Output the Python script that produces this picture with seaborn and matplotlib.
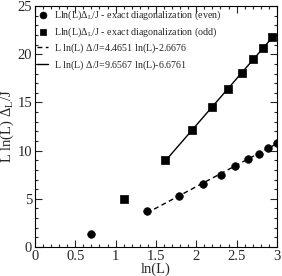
import numpy as np
import pandas as pd
import matplotlib
matplotlib.use("Agg")
import matplotlib.pyplot as plt
from matplotlib.ticker import MultipleLocator
import seaborn as sns

# data
L_even = [2, 4, 6, 8, 10, 12, 14, 16, 18, 20]
y_even = [1.4, 3.7, 5.3, 6.5, 7.5, 8.4, 9.1, 9.7, 10.3, 10.8]
L_odd = [3, 5, 7, 9, 11, 13, 15, 17, 19]
y_odd = [5.0, 9.0, 12.1, 14.5, 16.4, 18.1, 19.5, 20.7, 21.8]
fit_even = (4.4651, -2.6676)
fit_odd = (9.6567, -6.6761)
fit_even_range = (np.log(4), 3.0)
fit_odd_range = (np.log(5), np.log(19))
xtick_labels = ["0", "0.5", "1", "1.5", "2", "2.5", "3"]

sns.set_style("ticks")
plt.rcParams['font.family'] = ['Liberation Serif', 'DejaVu Serif']
plt.rcParams['mathtext.fontset'] = 'custom'
plt.rcParams['mathtext.rm'] = 'Liberation Serif'
plt.rcParams['mathtext.it'] = 'Liberation Serif'

fig = plt.figure(figsize=(2.82, 2.76), dpi=100)
ax = fig.add_axes([0.124, 0.105, 0.858, 0.873])

df_e = pd.DataFrame({"x": np.log(L_even), "y": y_even})
df_o = pd.DataFrame({"x": np.log(L_odd), "y": y_odd})

sns.scatterplot(data=df_e, x="x", y="y", ax=ax, marker="o", color="black", s=30,
                edgecolor="black", linewidth=0.5,
                label=r"Lln(L)$\Delta_{\mathrm{L}}$/J - exact diagonalization (even)", zorder=3)
sns.scatterplot(data=df_o, x="x", y="y", ax=ax, marker="s", color="black", s=26,
                edgecolor="black", linewidth=0.5,
                label=r"Lln(L)$\Delta_{\mathrm{L}}$/J - exact diagonalization (odd)", zorder=3)

xe = np.linspace(*fit_even_range, 50)
xo = np.linspace(*fit_odd_range, 50)
df_fe = pd.DataFrame({"x": xe, "y": fit_even[0] * xe + fit_even[1]})
df_fo = pd.DataFrame({"x": xo, "y": fit_odd[0] * xo + fit_odd[1]})
sns.lineplot(data=df_fe, x="x", y="y", ax=ax, color="black", lw=1.0, linestyle=(0, (3.5, 2.5)),
             label=r"L ln(L) $\Delta$/J=4.4651 ln(L)-2.6676", zorder=2)
sns.lineplot(data=df_fo, x="x", y="y", ax=ax, color="black", lw=1.0, linestyle="-",
             label=r"L ln(L) $\Delta$/J=9.6567 ln(L)-6.6761", zorder=2)

ax.set_xlim(0, 3)
ax.set_ylim(0, 25)
ax.set_xticks([0, 0.5, 1, 1.5, 2, 2.5, 3])
ax.set_xticklabels(xtick_labels)
ax.xaxis.set_minor_locator(MultipleLocator(0.1))
ax.yaxis.set_major_locator(MultipleLocator(5))
ax.yaxis.set_minor_locator(MultipleLocator(1))
ax.tick_params(which="both", direction="in", top=True, right=True, labelsize=10.5, width=0.8)
ax.tick_params(which="major", length=5, pad=2)
ax.tick_params(which="minor", length=2.5)
for s in ax.spines.values():
    s.set_linewidth(0.8)
    s.set_color("black")

ax.set_xlabel("ln(L)", fontsize=10.5, labelpad=0)
ax.set_ylabel(r"L ln(L) $\Delta_{\mathrm{L}}$/J", fontsize=10.5, labelpad=1)

leg = ax.legend(loc="upper left", frameon=False, fontsize=7.2, handlelength=1.1,
                handletextpad=0.6, borderaxespad=0.1, labelspacing=0.3,
                borderpad=0.15, markerscale=0.9)

fig.savefig("out.png", dpi=100)
